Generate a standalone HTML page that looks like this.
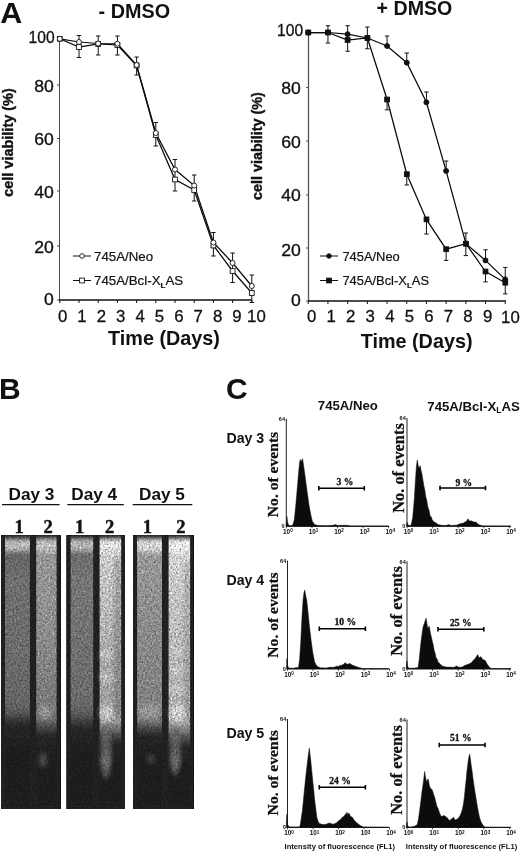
<!DOCTYPE html>
<html><head><meta charset="utf-8"><title>Figure</title>
<style>
html,body{margin:0;padding:0;background:#fff;}
body{width:520px;height:852px;overflow:hidden;}
svg{display:block;}
.ss{font-family:"Liberation Sans", Arial, Helvetica, sans-serif;}
.sf{font-family:"Liberation Serif", "Times New Roman", serif;}
.b{font-weight:bold;}
text{fill:#111;}
</style></head><body>
<svg width="520" height="852" viewBox="0 0 520 852">
<rect width="520" height="852" fill="#fff"/>
<path d="M59.5 38V300" fill="none" stroke="#4a4a4a" stroke-width="1"/>
<path d="M59.0 300H252" fill="none" stroke="#111" stroke-width="1.5"/>
<path d="M57.0 38.5H59.5" stroke="#4a4a4a" stroke-width="1"/>
<text transform="translate(54.599999999999994 43.0) scale(1.0 1)" font-size="15.6" class="ss" text-anchor="end" stroke="#111" stroke-width="0.3">100</text>
<path d="M57.0 85H59.5" stroke="#4a4a4a" stroke-width="1"/>
<text transform="translate(53.8 91.6) scale(1.13 1)" font-size="15.6" class="ss" text-anchor="end" stroke="#111" stroke-width="0.3">80</text>
<path d="M57.0 138.5H59.5" stroke="#4a4a4a" stroke-width="1"/>
<text transform="translate(53.8 144.6) scale(1.13 1)" font-size="15.6" class="ss" text-anchor="end" stroke="#111" stroke-width="0.3">60</text>
<path d="M57.0 191H59.5" stroke="#4a4a4a" stroke-width="1"/>
<text transform="translate(53.8 198.1) scale(1.13 1)" font-size="15.6" class="ss" text-anchor="end" stroke="#111" stroke-width="0.3">40</text>
<path d="M57.0 246H59.5" stroke="#4a4a4a" stroke-width="1"/>
<text transform="translate(53.8 252.6) scale(1.13 1)" font-size="15.6" class="ss" text-anchor="end" stroke="#111" stroke-width="0.3">20</text>
<path d="M57.0 300H59.5" stroke="#4a4a4a" stroke-width="1"/>
<text transform="translate(53.8 304.90000000000003) scale(1.13 1)" font-size="15.6" class="ss" text-anchor="end" stroke="#111" stroke-width="0.3">0</text>
<path d="M59.8 300V303" stroke="#111" stroke-width="1"/>
<path d="M79.0 300V303" stroke="#111" stroke-width="1"/>
<path d="M98.19999999999999 300V303" stroke="#111" stroke-width="1"/>
<path d="M117.39999999999999 300V303" stroke="#111" stroke-width="1"/>
<path d="M136.6 300V303" stroke="#111" stroke-width="1"/>
<path d="M155.8 300V303" stroke="#111" stroke-width="1"/>
<path d="M175.0 300V303" stroke="#111" stroke-width="1"/>
<path d="M194.2 300V303" stroke="#111" stroke-width="1"/>
<path d="M213.39999999999998 300V303" stroke="#111" stroke-width="1"/>
<path d="M232.59999999999997 300V303" stroke="#111" stroke-width="1"/>
<path d="M251.8 300V303" stroke="#111" stroke-width="1"/>
<text x="62.6" y="321.6" font-size="16.8" class="ss" text-anchor="middle" stroke="#111" stroke-width="0.3">0</text>
<text x="81.98" y="321.6" font-size="16.8" class="ss" text-anchor="middle" stroke="#111" stroke-width="0.3">1</text>
<text x="101.36" y="321.6" font-size="16.8" class="ss" text-anchor="middle" stroke="#111" stroke-width="0.3">2</text>
<text x="120.74000000000001" y="321.6" font-size="16.8" class="ss" text-anchor="middle" stroke="#111" stroke-width="0.3">3</text>
<text x="140.12" y="321.6" font-size="16.8" class="ss" text-anchor="middle" stroke="#111" stroke-width="0.3">4</text>
<text x="159.5" y="321.6" font-size="16.8" class="ss" text-anchor="middle" stroke="#111" stroke-width="0.3">5</text>
<text x="178.88" y="321.6" font-size="16.8" class="ss" text-anchor="middle" stroke="#111" stroke-width="0.3">6</text>
<text x="198.26" y="321.6" font-size="16.8" class="ss" text-anchor="middle" stroke="#111" stroke-width="0.3">7</text>
<text x="217.64" y="321.6" font-size="16.8" class="ss" text-anchor="middle" stroke="#111" stroke-width="0.3">8</text>
<text x="237.01999999999998" y="321.6" font-size="16.8" class="ss" text-anchor="middle" stroke="#111" stroke-width="0.3">9</text>
<text x="256.4" y="321.6" font-size="16.8" class="ss" text-anchor="middle" stroke="#111" stroke-width="0.3">10</text>
<path d="M79.0 35.5V57.5M76.8 35.5H81.2M76.8 57.5H81.2" stroke="#111" stroke-width="1" fill="none"/>
<path d="M98.19999999999999 36V55M95.99999999999999 36H100.39999999999999M95.99999999999999 55H100.39999999999999" stroke="#111" stroke-width="1" fill="none"/>
<path d="M117.39999999999999 36V55M115.19999999999999 36H119.6M115.19999999999999 55H119.6" stroke="#111" stroke-width="1" fill="none"/>
<path d="M136.6 57V75M134.4 57H138.79999999999998M134.4 75H138.79999999999998" stroke="#111" stroke-width="1" fill="none"/>
<path d="M155.8 122.5V146M153.60000000000002 122.5H158.0M153.60000000000002 146H158.0" stroke="#111" stroke-width="1" fill="none"/>
<path d="M175.0 159.5V191M172.8 159.5H177.2M172.8 191H177.2" stroke="#111" stroke-width="1" fill="none"/>
<path d="M194.2 175V201M192.0 175H196.39999999999998M192.0 201H196.39999999999998" stroke="#111" stroke-width="1" fill="none"/>
<path d="M213.39999999999998 232.5V256M211.2 232.5H215.59999999999997M211.2 256H215.59999999999997" stroke="#111" stroke-width="1" fill="none"/>
<path d="M232.59999999999997 253V282.5M230.39999999999998 253H234.79999999999995M230.39999999999998 282.5H234.79999999999995" stroke="#111" stroke-width="1" fill="none"/>
<path d="M251.8 275V302.5M249.60000000000002 275H254.0M249.60000000000002 302.5H254.0" stroke="#111" stroke-width="1" fill="none"/>
<polyline points="59.8,38.8 79.0,42.0 98.2,43.5 117.4,43.8 136.6,65.0 155.8,133.0 175.0,169.5 194.2,185.5 213.4,242.5 232.6,263.0 251.8,286.0" fill="none" stroke="#0a0a0a" stroke-width="1.25"/>
<polyline points="59.8,38.8 79.0,47.0 98.2,44.0 117.4,45.0 136.6,65.5 155.8,135.0 175.0,179.5 194.2,190.0 213.4,245.5 232.6,271.0 251.8,293.0" fill="none" stroke="#0a0a0a" stroke-width="1.25"/>
<rect x="57.4" y="36.4" width="4.8" height="4.8" fill="#fff" stroke="#111" stroke-width="0.9"/>
<rect x="76.6" y="44.6" width="4.8" height="4.8" fill="#fff" stroke="#111" stroke-width="0.9"/>
<rect x="95.8" y="41.6" width="4.8" height="4.8" fill="#fff" stroke="#111" stroke-width="0.9"/>
<rect x="115.0" y="42.6" width="4.8" height="4.8" fill="#fff" stroke="#111" stroke-width="0.9"/>
<rect x="134.2" y="63.1" width="4.8" height="4.8" fill="#fff" stroke="#111" stroke-width="0.9"/>
<rect x="153.4" y="132.6" width="4.8" height="4.8" fill="#fff" stroke="#111" stroke-width="0.9"/>
<rect x="172.6" y="177.1" width="4.8" height="4.8" fill="#fff" stroke="#111" stroke-width="0.9"/>
<rect x="191.8" y="187.6" width="4.8" height="4.8" fill="#fff" stroke="#111" stroke-width="0.9"/>
<rect x="211.0" y="243.1" width="4.8" height="4.8" fill="#fff" stroke="#111" stroke-width="0.9"/>
<rect x="230.2" y="268.6" width="4.8" height="4.8" fill="#fff" stroke="#111" stroke-width="0.9"/>
<rect x="249.4" y="290.6" width="4.8" height="4.8" fill="#fff" stroke="#111" stroke-width="0.9"/>
<circle cx="59.8" cy="38.8" r="2.5" fill="#fff" stroke="#111" stroke-width="0.9"/>
<circle cx="79.0" cy="42.0" r="2.5" fill="#fff" stroke="#111" stroke-width="0.9"/>
<circle cx="98.2" cy="43.5" r="2.5" fill="#fff" stroke="#111" stroke-width="0.9"/>
<circle cx="117.4" cy="43.8" r="2.5" fill="#fff" stroke="#111" stroke-width="0.9"/>
<circle cx="136.6" cy="65.0" r="2.5" fill="#fff" stroke="#111" stroke-width="0.9"/>
<circle cx="155.8" cy="133.0" r="2.5" fill="#fff" stroke="#111" stroke-width="0.9"/>
<circle cx="175.0" cy="169.5" r="2.5" fill="#fff" stroke="#111" stroke-width="0.9"/>
<circle cx="194.2" cy="185.5" r="2.5" fill="#fff" stroke="#111" stroke-width="0.9"/>
<circle cx="213.4" cy="242.5" r="2.5" fill="#fff" stroke="#111" stroke-width="0.9"/>
<circle cx="232.6" cy="263.0" r="2.5" fill="#fff" stroke="#111" stroke-width="0.9"/>
<circle cx="251.8" cy="286.0" r="2.5" fill="#fff" stroke="#111" stroke-width="0.9"/>
<path d="M308.5 32V301" fill="none" stroke="#555" stroke-width="1.3"/>
<path d="M308.0 301H506" fill="none" stroke="#111" stroke-width="1.5"/>
<path d="M306.0 32.5H308.5" stroke="#555" stroke-width="1"/>
<text transform="translate(303.09999999999997 36.0) scale(1.0 1)" font-size="15.6" class="ss" text-anchor="end" stroke="#111" stroke-width="0.3">100</text>
<path d="M306.0 87.5H308.5" stroke="#555" stroke-width="1"/>
<text transform="translate(300.9 94.35) scale(1.13 1)" font-size="15.6" class="ss" text-anchor="end" stroke="#111" stroke-width="0.3">80</text>
<path d="M306.0 141H308.5" stroke="#555" stroke-width="1"/>
<text transform="translate(300.9 147.6) scale(1.13 1)" font-size="15.6" class="ss" text-anchor="end" stroke="#111" stroke-width="0.3">60</text>
<path d="M306.0 195H308.5" stroke="#555" stroke-width="1"/>
<text transform="translate(300.9 200.6) scale(1.13 1)" font-size="15.6" class="ss" text-anchor="end" stroke="#111" stroke-width="0.3">40</text>
<path d="M306.0 248H308.5" stroke="#555" stroke-width="1"/>
<text transform="translate(300.9 255.9) scale(1.13 1)" font-size="15.6" class="ss" text-anchor="end" stroke="#111" stroke-width="0.3">20</text>
<path d="M306.0 301H308.5" stroke="#555" stroke-width="1"/>
<text transform="translate(300.9 306.1) scale(1.13 1)" font-size="15.6" class="ss" text-anchor="end" stroke="#111" stroke-width="0.3">0</text>
<path d="M308.25 301V304" stroke="#111" stroke-width="1"/>
<path d="M327.95 301V304" stroke="#111" stroke-width="1"/>
<path d="M347.65 301V304" stroke="#111" stroke-width="1"/>
<path d="M367.35 301V304" stroke="#111" stroke-width="1"/>
<path d="M387.05 301V304" stroke="#111" stroke-width="1"/>
<path d="M406.75 301V304" stroke="#111" stroke-width="1"/>
<path d="M426.45 301V304" stroke="#111" stroke-width="1"/>
<path d="M446.15 301V304" stroke="#111" stroke-width="1"/>
<path d="M465.85 301V304" stroke="#111" stroke-width="1"/>
<path d="M485.54999999999995 301V304" stroke="#111" stroke-width="1"/>
<path d="M505.25 301V304" stroke="#111" stroke-width="1"/>
<text x="311.6" y="322.4" font-size="16.8" class="ss" text-anchor="middle" stroke="#111" stroke-width="0.3">0</text>
<text x="331.15000000000003" y="322.4" font-size="16.8" class="ss" text-anchor="middle" stroke="#111" stroke-width="0.3">1</text>
<text x="350.70000000000005" y="322.4" font-size="16.8" class="ss" text-anchor="middle" stroke="#111" stroke-width="0.3">2</text>
<text x="370.25" y="322.4" font-size="16.8" class="ss" text-anchor="middle" stroke="#111" stroke-width="0.3">3</text>
<text x="389.8" y="322.4" font-size="16.8" class="ss" text-anchor="middle" stroke="#111" stroke-width="0.3">4</text>
<text x="409.35" y="322.4" font-size="16.8" class="ss" text-anchor="middle" stroke="#111" stroke-width="0.3">5</text>
<text x="428.90000000000003" y="322.4" font-size="16.8" class="ss" text-anchor="middle" stroke="#111" stroke-width="0.3">6</text>
<text x="448.45000000000005" y="322.4" font-size="16.8" class="ss" text-anchor="middle" stroke="#111" stroke-width="0.3">7</text>
<text x="468.0" y="322.4" font-size="16.8" class="ss" text-anchor="middle" stroke="#111" stroke-width="0.3">8</text>
<text x="487.55000000000007" y="322.4" font-size="16.8" class="ss" text-anchor="middle" stroke="#111" stroke-width="0.3">9</text>
<text x="510.4" y="322.6" font-size="16.8" class="ss" text-anchor="middle" stroke="#111" stroke-width="0.3">10</text>
<path d="M327.95 25.75V43M325.75 25.75H330.15M325.75 43H330.15" stroke="#111" stroke-width="1" fill="none"/>
<path d="M347.65 25.75V51.25M345.45 25.75H349.84999999999997M345.45 51.25H349.84999999999997" stroke="#111" stroke-width="1" fill="none"/>
<path d="M367.35 27V48.75M365.15000000000003 27H369.55M365.15000000000003 48.75H369.55" stroke="#111" stroke-width="1" fill="none"/>
<path d="M387.05 36V46M384.85 36H389.25M384.85 46H389.25" stroke="#111" stroke-width="1" fill="none"/>
<path d="M387.05 99.5V109.8M384.85 99.5H389.25M384.85 109.8H389.25" stroke="#111" stroke-width="1" fill="none"/>
<path d="M406.75 53V62.7M404.55 53H408.95M404.55 62.7H408.95" stroke="#111" stroke-width="1" fill="none"/>
<path d="M406.75 174.2V185M404.55 174.2H408.95M404.55 185H408.95" stroke="#111" stroke-width="1" fill="none"/>
<path d="M426.45 92V102.3M424.25 92H428.65M424.25 102.3H428.65" stroke="#111" stroke-width="1" fill="none"/>
<path d="M426.45 219.4V234M424.25 219.4H428.65M424.25 234H428.65" stroke="#111" stroke-width="1" fill="none"/>
<path d="M446.15 161V170.9M443.95 161H448.34999999999997M443.95 170.9H448.34999999999997" stroke="#111" stroke-width="1" fill="none"/>
<path d="M446.15 249.2V260.4M443.95 249.2H448.34999999999997M443.95 260.4H448.34999999999997" stroke="#111" stroke-width="1" fill="none"/>
<path d="M465.85 233V255.6M463.65000000000003 233H468.05M463.65000000000003 255.6H468.05" stroke="#111" stroke-width="1" fill="none"/>
<path d="M485.54999999999995 249.8V260.4M483.34999999999997 249.8H487.74999999999994M483.34999999999997 260.4H487.74999999999994" stroke="#111" stroke-width="1" fill="none"/>
<path d="M485.54999999999995 271.5V281.9M483.34999999999997 271.5H487.74999999999994M483.34999999999997 281.9H487.74999999999994" stroke="#111" stroke-width="1" fill="none"/>
<path d="M505.25 267.4V279.4M503.05 267.4H507.45M503.05 279.4H507.45" stroke="#111" stroke-width="1" fill="none"/>
<path d="M505.25 282.7V293.9M503.05 282.7H507.45M503.05 293.9H507.45" stroke="#111" stroke-width="1" fill="none"/>
<polyline points="308.2,32.5 327.9,32.5 347.6,34.2 367.4,38.0 387.1,46.0 406.8,62.7 426.4,102.3 446.1,170.9 465.9,243.7 485.5,260.4 505.2,279.4" fill="none" stroke="#0a0a0a" stroke-width="1.25"/>
<polyline points="308.2,32.5 327.9,32.5 347.6,40.0 367.4,38.0 387.1,99.5 406.8,174.2 426.4,219.4 446.1,249.2 465.9,243.7 485.5,271.5 505.2,282.7" fill="none" stroke="#0a0a0a" stroke-width="1.25"/>
<rect x="305.9" y="30.1" width="4.8" height="4.8" fill="#111" stroke="#111" stroke-width="0.9"/>
<rect x="325.6" y="30.1" width="4.8" height="4.8" fill="#111" stroke="#111" stroke-width="0.9"/>
<rect x="345.2" y="37.6" width="4.8" height="4.8" fill="#111" stroke="#111" stroke-width="0.9"/>
<rect x="365.0" y="35.6" width="4.8" height="4.8" fill="#111" stroke="#111" stroke-width="0.9"/>
<rect x="384.7" y="97.1" width="4.8" height="4.8" fill="#111" stroke="#111" stroke-width="0.9"/>
<rect x="404.4" y="171.8" width="4.8" height="4.8" fill="#111" stroke="#111" stroke-width="0.9"/>
<rect x="424.1" y="217.0" width="4.8" height="4.8" fill="#111" stroke="#111" stroke-width="0.9"/>
<rect x="443.8" y="246.8" width="4.8" height="4.8" fill="#111" stroke="#111" stroke-width="0.9"/>
<rect x="463.5" y="241.3" width="4.8" height="4.8" fill="#111" stroke="#111" stroke-width="0.9"/>
<rect x="483.1" y="269.1" width="4.8" height="4.8" fill="#111" stroke="#111" stroke-width="0.9"/>
<rect x="502.9" y="280.3" width="4.8" height="4.8" fill="#111" stroke="#111" stroke-width="0.9"/>
<circle cx="308.2" cy="32.5" r="2.5" fill="#111" stroke="#111" stroke-width="0.9"/>
<circle cx="327.9" cy="32.5" r="2.5" fill="#111" stroke="#111" stroke-width="0.9"/>
<circle cx="347.6" cy="34.2" r="2.5" fill="#111" stroke="#111" stroke-width="0.9"/>
<circle cx="367.4" cy="38.0" r="2.5" fill="#111" stroke="#111" stroke-width="0.9"/>
<circle cx="387.1" cy="46.0" r="2.5" fill="#111" stroke="#111" stroke-width="0.9"/>
<circle cx="406.8" cy="62.7" r="2.5" fill="#111" stroke="#111" stroke-width="0.9"/>
<circle cx="426.4" cy="102.3" r="2.5" fill="#111" stroke="#111" stroke-width="0.9"/>
<circle cx="446.1" cy="170.9" r="2.5" fill="#111" stroke="#111" stroke-width="0.9"/>
<circle cx="465.9" cy="243.7" r="2.5" fill="#111" stroke="#111" stroke-width="0.9"/>
<circle cx="485.5" cy="260.4" r="2.5" fill="#111" stroke="#111" stroke-width="0.9"/>
<circle cx="505.2" cy="279.4" r="2.5" fill="#111" stroke="#111" stroke-width="0.9"/>
<text transform="translate(0.2 23.1) scale(1.05 1)" font-size="29" class="ss b" text-anchor="start">A</text>
<text x="98.6" y="17.6" font-size="19.8" class="ss b" text-anchor="start">- DMSO</text>
<text x="376.6" y="15.4" font-size="19.6" class="ss b" text-anchor="start">+ DMSO</text>
<text x="164" y="345" font-size="19.8" class="ss b" text-anchor="middle">Time (Days)</text>
<text x="416.6" y="347.8" font-size="19.8" class="ss b" text-anchor="middle">Time (Days)</text>
<text x="13" y="142.5" font-size="13.8" class="ss b" text-anchor="middle" transform="rotate(-90 13 142.5)" stroke="#111" stroke-width="0.35" textLength="108.6" lengthAdjust="spacingAndGlyphs">cell viability (%)</text>
<text x="262" y="146" font-size="13.8" class="ss b" text-anchor="middle" transform="rotate(-90 262 146)" stroke="#111" stroke-width="0.35" textLength="107.8" lengthAdjust="spacingAndGlyphs">cell viability (%)</text>
<path d="M73 256H91" stroke="#111" stroke-width="1"/>
<path d="M73 280.5H91" stroke="#111" stroke-width="1"/>
<circle cx="82" cy="256" r="2.3" fill="#fff" stroke="#111" stroke-width="0.9"/>
<rect x="79.6" y="278.1" width="4.8" height="4.8" fill="#fff" stroke="#111" stroke-width="0.9"/>
<text x="94" y="260.7" font-size="13.3" class="ss" text-anchor="start" stroke="#111" stroke-width="0.2">745A/Neo</text>
<text x="94" y="285.2" font-size="13.3" class="ss" text-anchor="start" stroke="#111" stroke-width="0.2">745A/Bcl-X<tspan font-size="8" dy="2.6" font-weight="bold">L</tspan><tspan dy="-2.6">AS</tspan></text>
<path d="M320 256H338" stroke="#111" stroke-width="1"/>
<path d="M320 280.5H338" stroke="#111" stroke-width="1"/>
<circle cx="329" cy="256" r="2.3" fill="#111" stroke="#111" stroke-width="0.9"/>
<rect x="326.6" y="278.1" width="4.8" height="4.8" fill="#111" stroke="#111" stroke-width="0.9"/>
<text x="342.4" y="260.7" font-size="12.9" class="ss" text-anchor="start" stroke="#111" stroke-width="0.2">745A/Neo</text>
<text x="342.4" y="285.2" font-size="12.9" class="ss" text-anchor="start" stroke="#111" stroke-width="0.2">745A/Bcl-X<tspan font-size="8" dy="2.6" font-weight="bold">L</tspan><tspan dy="-2.6">AS</tspan></text>
<text x="-1" y="398.8" font-size="30" class="ss b" text-anchor="start">B</text>
<text x="31.5" y="500.2" font-size="17.2" class="ss b" text-anchor="middle">Day 3</text>
<path d="M2 504.6H59.6" stroke="#111" stroke-width="1.2"/>
<text x="94.2" y="500.2" font-size="17.2" class="ss b" text-anchor="middle">Day 4</text>
<path d="M67.3 504.6H123.8" stroke="#111" stroke-width="1.2"/>
<text x="162" y="500.2" font-size="17.2" class="ss b" text-anchor="middle">Day 5</text>
<path d="M132.7 504.6H192.3" stroke="#111" stroke-width="1.2"/>
<text x="19.2" y="533" font-size="18.5" class="sf b" text-anchor="middle" stroke="#111" stroke-width="0.5">1</text>
<text x="48" y="533" font-size="18.5" class="sf b" text-anchor="middle" stroke="#111" stroke-width="0.5">2</text>
<text x="79.6" y="533" font-size="18.5" class="sf b" text-anchor="middle" stroke="#111" stroke-width="0.5">1</text>
<text x="109.6" y="533" font-size="18.5" class="sf b" text-anchor="middle" stroke="#111" stroke-width="0.5">2</text>
<text x="147.3" y="533" font-size="18.5" class="sf b" text-anchor="middle" stroke="#111" stroke-width="0.5">1</text>
<text x="180.8" y="533" font-size="18.5" class="sf b" text-anchor="middle" stroke="#111" stroke-width="0.5">2</text>
<defs>
<filter id="noise" x="0" y="0" width="100%" height="100%" color-interpolation-filters="sRGB">
<feGaussianBlur in="SourceGraphic" stdDeviation="0.55" result="s"/>
<feTurbulence type="fractalNoise" baseFrequency="0.55" numOctaves="2" seed="5" result="n"/>
<feColorMatrix in="n" type="matrix" values="0.34 0.33 0.33 0 0  0.34 0.33 0.33 0 0  0.34 0.33 0.33 0 0  0 0 0 0 1" result="g"/>
<feComposite in="s" in2="g" operator="arithmetic" k1="1.8" k2="0.14" k3="0" k4="0"/>
</filter>
<filter id="bl1" x="-20%" y="-5%" width="140%" height="110%"><feGaussianBlur stdDeviation="0.5 2.2"/></filter>
<filter id="bl" x="-50%" y="-10%" width="200%" height="120%"><feGaussianBlur stdDeviation="1.6"/></filter>
<filter id="bl2" x="-60%" y="-60%" width="220%" height="220%"><feGaussianBlur stdDeviation="2.2"/></filter>

<linearGradient id="g11" x1="0" y1="0" x2="0" y2="1"><stop offset="0" stop-color="#2a2a2a"/><stop offset="0.0041" stop-color="#2a2a2a"/><stop offset="0.0078" stop-color="#b0b0b0"/><stop offset="0.0446" stop-color="#b0b0b0"/><stop offset="0.0558" stop-color="#606060"/><stop offset="0.158" stop-color="#6a6a6a"/><stop offset="0.381" stop-color="#686868"/><stop offset="0.6041" stop-color="#626262"/><stop offset="0.6487" stop-color="#565656"/><stop offset="0.671" stop-color="#3c3c3c"/><stop offset="0.7045" stop-color="#202020"/><stop offset="1" stop-color="#1e1e1e"/></linearGradient>
<linearGradient id="g12" x1="0" y1="0" x2="0" y2="1"><stop offset="0" stop-color="#2a2a2a"/><stop offset="0.0041" stop-color="#2a2a2a"/><stop offset="0.0078" stop-color="#b8b8b8"/><stop offset="0.0446" stop-color="#b8b8b8"/><stop offset="0.0595" stop-color="#909090"/><stop offset="0.2323" stop-color="#8c8c8c"/><stop offset="0.4182" stop-color="#828282"/><stop offset="0.5669" stop-color="#767676"/><stop offset="0.671" stop-color="#707070"/><stop offset="0.7007" stop-color="#484848"/><stop offset="0.7416" stop-color="#202020"/><stop offset="1" stop-color="#1e1e1e"/></linearGradient>
<linearGradient id="g21" x1="0" y1="0" x2="0" y2="1"><stop offset="0" stop-color="#2a2a2a"/><stop offset="0.0041" stop-color="#2a2a2a"/><stop offset="0.0078" stop-color="#acacac"/><stop offset="0.0446" stop-color="#acacac"/><stop offset="0.0558" stop-color="#666666"/><stop offset="0.158" stop-color="#707070"/><stop offset="0.381" stop-color="#6c6c6c"/><stop offset="0.6041" stop-color="#666666"/><stop offset="0.6524" stop-color="#5a5a5a"/><stop offset="0.6784" stop-color="#3e3e3e"/><stop offset="0.7193" stop-color="#202020"/><stop offset="1" stop-color="#1e1e1e"/></linearGradient>
<linearGradient id="g22" x1="0" y1="0" x2="0" y2="1"><stop offset="0" stop-color="#2a2a2a"/><stop offset="0.0041" stop-color="#2a2a2a"/><stop offset="0.0078" stop-color="#d6d6d6"/><stop offset="0.0446" stop-color="#d6d6d6"/><stop offset="0.0595" stop-color="#c4c4c4"/><stop offset="0.2323" stop-color="#b6b6b6"/><stop offset="0.4182" stop-color="#a4a4a4"/><stop offset="0.6041" stop-color="#989898"/><stop offset="0.6859" stop-color="#909090"/><stop offset="0.7193" stop-color="#585858"/><stop offset="0.7677" stop-color="#202020"/><stop offset="1" stop-color="#1e1e1e"/></linearGradient>
<linearGradient id="g31" x1="0" y1="0" x2="0" y2="1"><stop offset="0" stop-color="#2a2a2a"/><stop offset="0.0041" stop-color="#2a2a2a"/><stop offset="0.0078" stop-color="#cccccc"/><stop offset="0.0446" stop-color="#cccccc"/><stop offset="0.0613" stop-color="#929292"/><stop offset="0.2323" stop-color="#8a8a8a"/><stop offset="0.4182" stop-color="#828282"/><stop offset="0.6041" stop-color="#7c7c7c"/><stop offset="0.6784" stop-color="#787878"/><stop offset="0.7045" stop-color="#484848"/><stop offset="0.7416" stop-color="#202020"/><stop offset="1" stop-color="#1e1e1e"/></linearGradient>
<linearGradient id="g32" x1="0" y1="0" x2="0" y2="1"><stop offset="0" stop-color="#2a2a2a"/><stop offset="0.0041" stop-color="#2a2a2a"/><stop offset="0.0078" stop-color="#e2e2e2"/><stop offset="0.0446" stop-color="#e2e2e2"/><stop offset="0.0613" stop-color="#cacaca"/><stop offset="0.2323" stop-color="#bcbcbc"/><stop offset="0.4182" stop-color="#b0b0b0"/><stop offset="0.6041" stop-color="#a6a6a6"/><stop offset="0.6933" stop-color="#9c9c9c"/><stop offset="0.7305" stop-color="#5c5c5c"/><stop offset="0.7788" stop-color="#202020"/><stop offset="1" stop-color="#1e1e1e"/></linearGradient>
</defs>
<g filter="url(#noise)">
<rect x="1" y="535.2" width="59.6" height="273.8" fill="#1f1f1f"/>
<rect x="5" y="537.5" width="24.9" height="269" fill="url(#g11)" filter="url(#bl1)"/>
<rect x="36.2" y="537.5" width="20.4" height="269" fill="url(#g12)" filter="url(#bl1)"/>
<rect x="66.6" y="535.2" width="58.4" height="273.8" fill="#1f1f1f"/>
<rect x="70.6" y="537.5" width="22.6" height="269" fill="url(#g21)" filter="url(#bl1)"/>
<rect x="99.6" y="537.5" width="21.6" height="269" fill="url(#g22)" filter="url(#bl1)"/>
<rect x="133" y="535.2" width="60.6" height="273.8" fill="#1f1f1f"/>
<rect x="137.1" y="537.5" width="24.9" height="269" fill="url(#g31)" filter="url(#bl1)"/>
<rect x="168.6" y="537.5" width="21.5" height="269" fill="url(#g32)" filter="url(#bl1)"/>
<rect x="114.5" y="558" width="6.7" height="158" fill="#000" opacity="0.2" filter="url(#bl2)"/>
<rect x="184" y="562" width="6.1" height="158" fill="#000" opacity="0.14" filter="url(#bl2)"/>
<ellipse cx="45" cy="712" rx="6" ry="7" fill="#a8a8a8" opacity="0.55" filter="url(#bl2)"/>
<ellipse cx="43" cy="760" rx="4.2" ry="7.5" fill="#606060" opacity="0.6" filter="url(#bl2)"/>
<ellipse cx="14" cy="650.5" rx="2.5" ry="1" fill="#909090" opacity="0.8" filter="url(#bl2)"/>
<ellipse cx="106" cy="753" rx="5.2" ry="26" fill="#666666" opacity="0.8" filter="url(#bl2)"/>
<ellipse cx="106" cy="761" rx="4.8" ry="8" fill="#888888" opacity="0.35" filter="url(#bl2)"/>
<ellipse cx="106.5" cy="712.5" rx="7" ry="9" fill="#d8d8d8" opacity="0.6" filter="url(#bl2)"/>
<ellipse cx="106.5" cy="677.5" rx="7" ry="5" fill="#d0d0d0" opacity="0.45" filter="url(#bl2)"/>
<ellipse cx="106.5" cy="655" rx="7" ry="5" fill="#d4d4d4" opacity="0.4" filter="url(#bl2)"/>
<ellipse cx="77" cy="651" rx="2.5" ry="1" fill="#909090" opacity="0.7" filter="url(#bl2)"/>
<ellipse cx="149.5" cy="711" rx="11" ry="7" fill="#a4a4a4" opacity="0.55" filter="url(#bl2)"/>
<ellipse cx="151" cy="759" rx="4.5" ry="5" fill="#484848" opacity="0.7" filter="url(#bl2)"/>
<ellipse cx="175.3" cy="751" rx="5.2" ry="25" fill="#646464" opacity="0.8" filter="url(#bl2)"/>
<ellipse cx="175.5" cy="761" rx="4.8" ry="8" fill="#858585" opacity="0.35" filter="url(#bl2)"/>
<ellipse cx="178" cy="712.5" rx="8.5" ry="9" fill="#e0e0e0" opacity="0.6" filter="url(#bl2)"/>
<ellipse cx="178" cy="690" rx="8" ry="4.5" fill="#d8d8d8" opacity="0.45" filter="url(#bl2)"/>
<ellipse cx="178" cy="670" rx="8" ry="4.5" fill="#d8d8d8" opacity="0.4" filter="url(#bl2)"/>
<ellipse cx="178" cy="651" rx="8" ry="4.5" fill="#d8d8d8" opacity="0.35" filter="url(#bl2)"/>
</g>
<text x="226" y="398.8" font-size="30" class="ss b" text-anchor="start">C</text>
<text x="317.8" y="410.3" font-size="13.2" class="ss b" text-anchor="start">745A/Neo</text>
<text x="427.3" y="410.6" font-size="13.2" class="ss b" text-anchor="start">745A/Bcl-X<tspan font-size="8.6" dy="2.6">L</tspan><tspan dy="-2.6">AS</tspan></text>
<text x="226.4" y="443.4" font-size="14.2" class="ss b" text-anchor="start">Day 3</text>
<text x="226.4" y="584.5" font-size="14.2" class="ss b" text-anchor="start">Day 4</text>
<text x="226.4" y="737.8000000000001" font-size="14.2" class="ss b" text-anchor="start">Day 5</text>
<path d="M286.3 418.8V526.3H389" fill="none" stroke="#222" stroke-width="1"/>
<path d="M286.3 526.3V528.3" stroke="#222" stroke-width="0.8"/>
<text x="287.90000000000003" y="534.3" font-size="6.4" class="ss b" text-anchor="middle" fill="#111">10<tspan font-size="4.6" dy="-1.9">0</tspan></text>
<path d="M311.9 526.3V528.3" stroke="#222" stroke-width="0.8"/>
<text x="313.50000000000006" y="534.3" font-size="6.4" class="ss b" text-anchor="middle" fill="#111">10<tspan font-size="4.6" dy="-1.9">1</tspan></text>
<path d="M337.5 526.3V528.3" stroke="#222" stroke-width="0.8"/>
<text x="339.1" y="534.3" font-size="6.4" class="ss b" text-anchor="middle" fill="#111">10<tspan font-size="4.6" dy="-1.9">2</tspan></text>
<path d="M363.1 526.3V528.3" stroke="#222" stroke-width="0.8"/>
<text x="364.70000000000005" y="534.3" font-size="6.4" class="ss b" text-anchor="middle" fill="#111">10<tspan font-size="4.6" dy="-1.9">3</tspan></text>
<path d="M388.7 526.3V528.3" stroke="#222" stroke-width="0.8"/>
<text x="390.30000000000007" y="534.3" font-size="6.4" class="ss b" text-anchor="middle" fill="#111">10<tspan font-size="4.6" dy="-1.9">4</tspan></text>
<text x="285.1" y="421.2" font-size="5.6" class="ss b" text-anchor="end" fill="#111">64</text>
<text x="284.7" y="528.0999999999999" font-size="5.6" class="ss b" text-anchor="end" fill="#111">0</text>
<path d="M286.2 526.3L286.2 526.2L286.5 521.2L286.9 516.5L287.6 522.3L288.8 525.5L291.5 525.8L292.7 525.3L294.3 520.0L295.7 506.2L297.3 487.7L298.9 469.2L299.8 461.2L300.3 459.5L301.0 461.4L301.5 461.2L302.2 459.3L302.6 458.8L303.1 462.3L303.8 466.9L305.4 478.5L307.2 492.3L308.8 503.8L310.7 514.2L312.3 521.2L314.6 524.6L318.1 525.5L326.2 525.7L333.1 525.3L335.4 524.6L337.7 525.4L346.9 525.3L350.4 525.9L388.5 526.1L388.5 526.3Z" fill="#0c0c0c" stroke="#0c0c0c" stroke-width="0.5" stroke-linejoin="round"/>
<path d="M318.8 488.2H364.3M318.8 485.9V490.5M364.3 485.9V490.5" stroke="#000" stroke-width="1.6" fill="none"/>
<text x="345" y="485.4" font-size="9.6" class="sf b" text-anchor="middle" stroke="#111" stroke-width="0.3">3 %</text>
<text x="277.8" y="474.5" font-size="15.6" class="sf b" text-anchor="middle" transform="rotate(-90 277.8 474.5)" stroke="#111" stroke-width="0.25">No. of events</text>
<path d="M407 418V526.3H511" fill="none" stroke="#222" stroke-width="1"/>
<path d="M407.0 526.3V528.3" stroke="#222" stroke-width="0.8"/>
<text x="408.6" y="534.3" font-size="6.4" class="ss b" text-anchor="middle" fill="#111">10<tspan font-size="4.6" dy="-1.9">0</tspan></text>
<path d="M432.6 526.3V528.3" stroke="#222" stroke-width="0.8"/>
<text x="434.20000000000005" y="534.3" font-size="6.4" class="ss b" text-anchor="middle" fill="#111">10<tspan font-size="4.6" dy="-1.9">1</tspan></text>
<path d="M458.2 526.3V528.3" stroke="#222" stroke-width="0.8"/>
<text x="459.8" y="534.3" font-size="6.4" class="ss b" text-anchor="middle" fill="#111">10<tspan font-size="4.6" dy="-1.9">2</tspan></text>
<path d="M483.8 526.3V528.3" stroke="#222" stroke-width="0.8"/>
<text x="485.40000000000003" y="534.3" font-size="6.4" class="ss b" text-anchor="middle" fill="#111">10<tspan font-size="4.6" dy="-1.9">3</tspan></text>
<path d="M509.4 526.3V528.3" stroke="#222" stroke-width="0.8"/>
<text x="511.0" y="534.3" font-size="6.4" class="ss b" text-anchor="middle" fill="#111">10<tspan font-size="4.6" dy="-1.9">4</tspan></text>
<text x="405.8" y="420.4" font-size="5.6" class="ss b" text-anchor="end" fill="#111">64</text>
<text x="405.4" y="528.0999999999999" font-size="5.6" class="ss b" text-anchor="end" fill="#111">0</text>
<path d="M406.5 526.3L406.5 526.2L406.9 522.3L407.6 524.6L409.2 525.5L411.1 525.3L412.7 517.7L414.3 499.2L415.7 476.2L416.6 464.6L417.3 460.0L418.0 464.6L418.9 468.1L419.6 466.9L420.3 465.8L421.0 470.4L421.9 473.8L423.8 485.4L424.9 490.5L425.8 496.9L426.8 500.4L427.7 506.2L429.1 510.8L430.0 515.4L431.4 517.2L432.3 520.0L434.6 522.3L436.5 523.2L438.1 524.6L441.5 525.3L446.2 525.5L448.5 524.6L450.8 525.4L456.5 525.3L457.7 524.6L461.2 523.5L463.5 523.0L464.6 522.3L466.0 521.4L466.9 520.7L468.1 518.8L469.0 520.5L470.4 521.2L471.8 520.7L472.7 521.6L475.0 522.3L476.2 522.1L477.3 523.5L479.6 525.1L483.1 525.9L510.8 526.1L510.8 526.3Z" fill="#0c0c0c" stroke="#0c0c0c" stroke-width="0.5" stroke-linejoin="round"/>
<path d="M440 488H485.5M440 485.7V490.3M485.5 485.7V490.3" stroke="#000" stroke-width="1.6" fill="none"/>
<text x="463.8" y="485.8" font-size="9.6" class="sf b" text-anchor="middle" stroke="#111" stroke-width="0.3">9 %</text>
<text x="403.6" y="468" font-size="16.4" class="sf b" text-anchor="middle" transform="rotate(-90 403.6 468)" stroke="#111" stroke-width="0.25">No. of events</text>
<path d="M287.5 560.6V668.9H389.5" fill="none" stroke="#222" stroke-width="1"/>
<path d="M287.5 668.9V670.9" stroke="#222" stroke-width="0.8"/>
<text x="289.1" y="676.9" font-size="6.4" class="ss b" text-anchor="middle" fill="#111">10<tspan font-size="4.6" dy="-1.9">0</tspan></text>
<path d="M313.0 668.9V670.9" stroke="#222" stroke-width="0.8"/>
<text x="314.6" y="676.9" font-size="6.4" class="ss b" text-anchor="middle" fill="#111">10<tspan font-size="4.6" dy="-1.9">1</tspan></text>
<path d="M338.5 668.9V670.9" stroke="#222" stroke-width="0.8"/>
<text x="340.1" y="676.9" font-size="6.4" class="ss b" text-anchor="middle" fill="#111">10<tspan font-size="4.6" dy="-1.9">2</tspan></text>
<path d="M364.0 668.9V670.9" stroke="#222" stroke-width="0.8"/>
<text x="365.6" y="676.9" font-size="6.4" class="ss b" text-anchor="middle" fill="#111">10<tspan font-size="4.6" dy="-1.9">3</tspan></text>
<path d="M389.5 668.9V670.9" stroke="#222" stroke-width="0.8"/>
<text x="391.1" y="676.9" font-size="6.4" class="ss b" text-anchor="middle" fill="#111">10<tspan font-size="4.6" dy="-1.9">4</tspan></text>
<text x="286.3" y="563.0" font-size="5.6" class="ss b" text-anchor="end" fill="#111">64</text>
<text x="285.9" y="670.6999999999999" font-size="5.6" class="ss b" text-anchor="end" fill="#111">0</text>
<path d="M286.5 668.9L286.5 668.9L286.7 663.2L286.9 658.5L287.6 665.5L288.8 668.2L293.8 668.3L296.2 667.5L298.5 667.8L299.6 659.7L300.8 641.2L301.9 618.2L303.1 599.7L304.0 592.8L304.7 590.0L305.4 593.9L306.1 597.4L306.8 600.8L307.7 608.9L309.3 625.1L311.2 641.2L312.8 652.8L314.6 662.0L316.9 666.2L320.4 667.8L326.2 668.0L329.6 667.3L334.2 667.3L336.5 666.2L338.2 666.4L340.0 665.5L341.8 665.2L343.5 664.3L344.6 663.2L345.3 662.7L346.5 664.1L348.1 664.3L349.2 663.4L350.4 663.8L352.0 665.0L353.4 665.5L357.3 667.1L360.8 668.1L363.5 668.7L388.5 668.8L388.5 668.9Z" fill="#0c0c0c" stroke="#0c0c0c" stroke-width="0.5" stroke-linejoin="round"/>
<path d="M319.3 628.8H365.4M319.3 626.5V631.0999999999999M365.4 626.5V631.0999999999999" stroke="#000" stroke-width="1.6" fill="none"/>
<text x="345.3" y="625" font-size="9.6" class="sf b" text-anchor="middle" stroke="#111" stroke-width="0.3">10 %</text>
<text x="277.8" y="615" font-size="15.6" class="sf b" text-anchor="middle" transform="rotate(-90 277.8 615)" stroke="#111" stroke-width="0.25">No. of events</text>
<path d="M407 561.2V668.9H511" fill="none" stroke="#222" stroke-width="1"/>
<path d="M407.0 668.9V670.9" stroke="#222" stroke-width="0.8"/>
<text x="408.6" y="676.9" font-size="6.4" class="ss b" text-anchor="middle" fill="#111">10<tspan font-size="4.6" dy="-1.9">0</tspan></text>
<path d="M432.6 668.9V670.9" stroke="#222" stroke-width="0.8"/>
<text x="434.20000000000005" y="676.9" font-size="6.4" class="ss b" text-anchor="middle" fill="#111">10<tspan font-size="4.6" dy="-1.9">1</tspan></text>
<path d="M458.2 668.9V670.9" stroke="#222" stroke-width="0.8"/>
<text x="459.8" y="676.9" font-size="6.4" class="ss b" text-anchor="middle" fill="#111">10<tspan font-size="4.6" dy="-1.9">2</tspan></text>
<path d="M483.8 668.9V670.9" stroke="#222" stroke-width="0.8"/>
<text x="485.40000000000003" y="676.9" font-size="6.4" class="ss b" text-anchor="middle" fill="#111">10<tspan font-size="4.6" dy="-1.9">3</tspan></text>
<path d="M509.4 668.9V670.9" stroke="#222" stroke-width="0.8"/>
<text x="511.0" y="676.9" font-size="6.4" class="ss b" text-anchor="middle" fill="#111">10<tspan font-size="4.6" dy="-1.9">4</tspan></text>
<text x="405.8" y="563.6" font-size="5.6" class="ss b" text-anchor="end" fill="#111">64</text>
<text x="405.4" y="670.6999999999999" font-size="5.6" class="ss b" text-anchor="end" fill="#111">0</text>
<path d="M406.2 668.9L406.2 668.9L406.5 664.3L406.9 660.8L407.6 666.2L408.8 668.2L413.8 668.2L416.2 667.8L418.0 667.8L419.2 659.7L420.8 643.5L422.6 629.7L423.5 625.5L424.2 623.9L425.2 620.5L426.1 618.2L427.0 623.9L427.7 628.5L428.6 626.9L429.3 626.2L430.0 630.8L430.7 634.3L432.3 641.2L433.2 644.7L434.2 650.5L435.1 653.2L436.0 657.4L437.2 659.2L438.1 662.0L440.4 664.3L442.7 666.2L446.2 667.1L454.2 667.3L456.5 665.9L458.8 667.3L462.3 667.1L464.6 665.5L468.1 664.3L469.9 663.6L471.5 662.5L473.8 659.7L475.0 658.8L476.2 656.9L477.1 655.5L477.8 654.6L478.7 656.9L479.6 657.8L480.5 656.7L481.2 656.9L482.2 658.8L483.1 659.7L484.5 659.9L485.4 660.8L487.2 664.3L489.5 667.3L491.2 668.7L510.8 668.8L510.8 668.9Z" fill="#0c0c0c" stroke="#0c0c0c" stroke-width="0.5" stroke-linejoin="round"/>
<path d="M438 629.2H483.8M438 626.9000000000001V631.5M483.8 626.9000000000001V631.5" stroke="#000" stroke-width="1.6" fill="none"/>
<text x="460.8" y="626.3" font-size="9.6" class="sf b" text-anchor="middle" stroke="#111" stroke-width="0.3">25 %</text>
<text x="401.8" y="611" font-size="16.4" class="sf b" text-anchor="middle" transform="rotate(-90 401.8 611)" stroke="#111" stroke-width="0.25">No. of events</text>
<path d="M287.5 719V827.4H389.5" fill="none" stroke="#222" stroke-width="1"/>
<path d="M287.5 827.4V829.4" stroke="#222" stroke-width="0.8"/>
<text x="289.1" y="835.4" font-size="6.4" class="ss b" text-anchor="middle" fill="#111">10<tspan font-size="4.6" dy="-1.9">0</tspan></text>
<path d="M313.0 827.4V829.4" stroke="#222" stroke-width="0.8"/>
<text x="314.6" y="835.4" font-size="6.4" class="ss b" text-anchor="middle" fill="#111">10<tspan font-size="4.6" dy="-1.9">1</tspan></text>
<path d="M338.5 827.4V829.4" stroke="#222" stroke-width="0.8"/>
<text x="340.1" y="835.4" font-size="6.4" class="ss b" text-anchor="middle" fill="#111">10<tspan font-size="4.6" dy="-1.9">2</tspan></text>
<path d="M364.0 827.4V829.4" stroke="#222" stroke-width="0.8"/>
<text x="365.6" y="835.4" font-size="6.4" class="ss b" text-anchor="middle" fill="#111">10<tspan font-size="4.6" dy="-1.9">3</tspan></text>
<path d="M389.5 827.4V829.4" stroke="#222" stroke-width="0.8"/>
<text x="391.1" y="835.4" font-size="6.4" class="ss b" text-anchor="middle" fill="#111">10<tspan font-size="4.6" dy="-1.9">4</tspan></text>
<text x="286.3" y="721.4" font-size="5.6" class="ss b" text-anchor="end" fill="#111">64</text>
<text x="285.9" y="829.1999999999999" font-size="5.6" class="ss b" text-anchor="end" fill="#111">0</text>
<path d="M286.2 827.4L286.2 827.4L286.5 820.0L286.9 814.2L287.6 824.6L289.2 826.9L296.2 827.0L299.6 826.9L300.3 824.6L302.4 810.8L304.2 792.3L305.8 776.2L307.7 760.0L308.6 753.1L309.3 748.0L310.0 754.2L310.7 760.0L312.3 776.2L313.7 790.0L314.6 799.2L316.0 810.8L316.9 817.7L318.1 821.2L319.2 823.5L322.7 824.6L326.2 824.2L328.0 823.5L329.6 823.0L331.2 823.7L333.1 824.2L334.9 823.5L336.5 823.0L338.8 820.5L340.2 820.0L341.2 818.8L342.3 817.2L343.2 817.0L344.2 815.8L345.1 814.9L345.8 813.5L346.5 814.0L346.9 812.2L347.6 814.0L348.1 814.5L348.8 813.1L349.2 813.5L350.2 815.8L351.1 816.8L352.0 817.0L352.7 817.7L354.3 820.5L356.2 822.3L358.5 824.2L360.8 825.8L363.5 827.0L388.5 827.3L388.5 827.4Z" fill="#0c0c0c" stroke="#0c0c0c" stroke-width="0.5" stroke-linejoin="round"/>
<path d="M319.3 787.2H365.4M319.3 784.9000000000001V789.5M365.4 784.9000000000001V789.5" stroke="#000" stroke-width="1.6" fill="none"/>
<text x="340" y="783.7" font-size="9.6" class="sf b" text-anchor="middle" stroke="#111" stroke-width="0.3">24 %</text>
<text x="277.8" y="772.7" font-size="15.6" class="sf b" text-anchor="middle" transform="rotate(-90 277.8 772.7)" stroke="#111" stroke-width="0.25">No. of events</text>
<path d="M407 719.5V827.4H511" fill="none" stroke="#222" stroke-width="1"/>
<path d="M407.0 827.4V829.4" stroke="#222" stroke-width="0.8"/>
<text x="408.6" y="835.4" font-size="6.4" class="ss b" text-anchor="middle" fill="#111">10<tspan font-size="4.6" dy="-1.9">0</tspan></text>
<path d="M432.6 827.4V829.4" stroke="#222" stroke-width="0.8"/>
<text x="434.20000000000005" y="835.4" font-size="6.4" class="ss b" text-anchor="middle" fill="#111">10<tspan font-size="4.6" dy="-1.9">1</tspan></text>
<path d="M458.2 827.4V829.4" stroke="#222" stroke-width="0.8"/>
<text x="459.8" y="835.4" font-size="6.4" class="ss b" text-anchor="middle" fill="#111">10<tspan font-size="4.6" dy="-1.9">2</tspan></text>
<path d="M483.8 827.4V829.4" stroke="#222" stroke-width="0.8"/>
<text x="485.40000000000003" y="835.4" font-size="6.4" class="ss b" text-anchor="middle" fill="#111">10<tspan font-size="4.6" dy="-1.9">3</tspan></text>
<path d="M509.4 827.4V829.4" stroke="#222" stroke-width="0.8"/>
<text x="511.0" y="835.4" font-size="6.4" class="ss b" text-anchor="middle" fill="#111">10<tspan font-size="4.6" dy="-1.9">4</tspan></text>
<text x="405.8" y="721.9" font-size="5.6" class="ss b" text-anchor="end" fill="#111">64</text>
<text x="405.4" y="829.1999999999999" font-size="5.6" class="ss b" text-anchor="end" fill="#111">0</text>
<path d="M406.2 827.4L406.2 827.4L406.5 824.6L406.9 821.8L407.6 825.8L409.2 827.2L412.7 826.7L415.0 826.0L417.3 824.6L418.5 818.8L419.6 810.8L420.8 801.5L421.9 792.3L423.1 784.2L423.8 778.5L424.7 771.5L425.4 776.2L426.5 781.9L427.5 779.8L428.2 778.9L429.1 784.2L430.0 787.7L431.2 788.8L432.3 790.0L433.5 794.2L434.6 796.9L435.8 802.0L436.9 806.2L438.1 808.5L439.2 811.9L440.4 814.9L441.5 816.5L443.4 815.8L445.0 815.8L446.2 817.2L447.3 817.7L448.5 819.5L449.6 820.5L450.8 819.5L451.9 818.8L452.8 817.7L453.5 817.2L454.5 819.1L455.4 820.0L457.2 819.1L458.8 817.7L460.0 815.8L461.2 813.1L462.3 809.6L463.5 803.8L464.4 796.9L465.3 787.7L466.2 779.6L466.9 771.5L467.8 764.6L468.5 758.8L469.2 755.8L469.7 754.2L470.4 758.8L471.1 764.6L472.0 770.4L472.7 776.2L473.8 784.2L475.0 792.3L476.2 799.2L477.3 806.2L478.5 812.6L479.6 817.7L480.8 821.2L481.9 823.5L483.5 825.8L484.9 827.2L510.8 827.4L510.8 827.4Z" fill="#0c0c0c" stroke="#0c0c0c" stroke-width="0.5" stroke-linejoin="round"/>
<path d="M439.3 745H485M439.3 742.7V747.3M485 742.7V747.3" stroke="#000" stroke-width="1.6" fill="none"/>
<text x="460.8" y="741" font-size="9.6" class="sf b" text-anchor="middle" stroke="#111" stroke-width="0.3">51 %</text>
<text x="401.8" y="770" font-size="16.4" class="sf b" text-anchor="middle" transform="rotate(-90 401.8 770)" stroke="#111" stroke-width="0.25">No. of events</text>
<text x="339.8" y="848.8" font-size="8" class="ss b" text-anchor="middle" textLength="110.5" lengthAdjust="spacingAndGlyphs">Intensity of fluorescence (FL1)</text>
<text x="461.6" y="849" font-size="8" class="ss b" text-anchor="middle" textLength="111.5" lengthAdjust="spacingAndGlyphs">Intensity of fluorescence (FL1)</text>
</svg>
</body></html>
